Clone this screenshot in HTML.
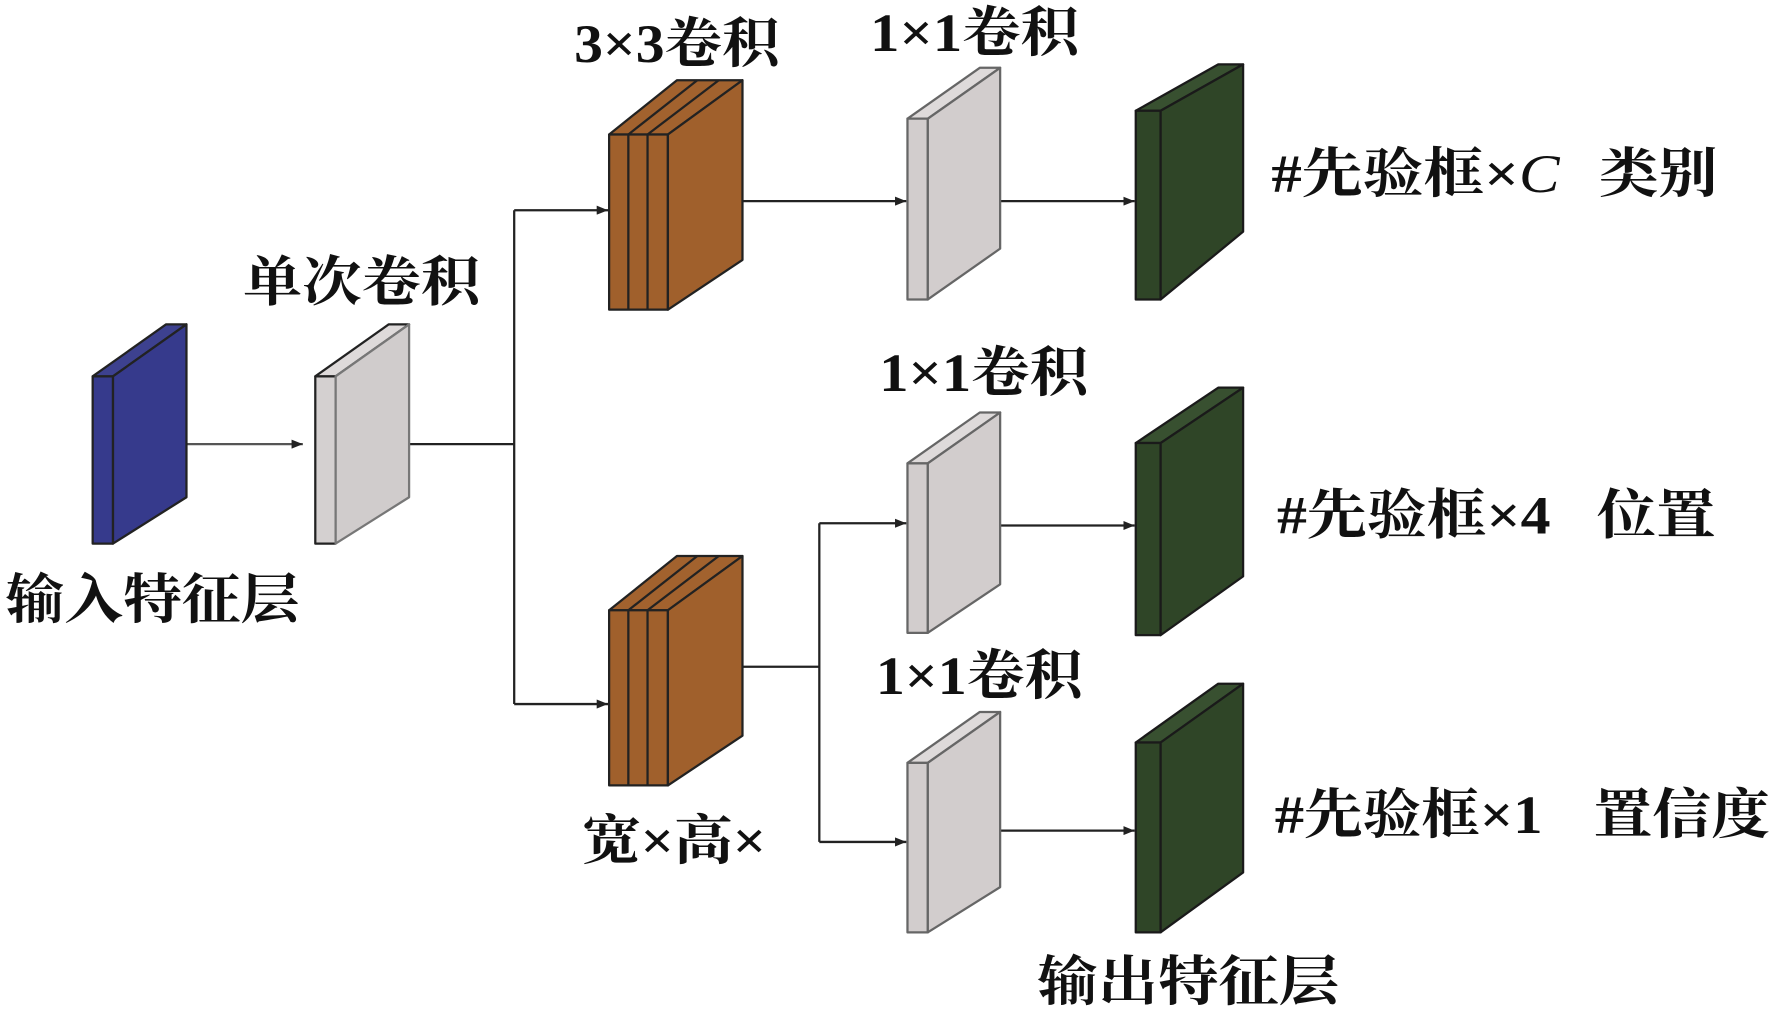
<!DOCTYPE html>
<html><head><meta charset="utf-8"><style>
html,body{margin:0;padding:0;background:#fff;}
svg{display:block;}
text{font-family:"Liberation Serif","Noto Serif CJK SC","Noto Sans CJK SC",serif;fill:#111;font-weight:bold;}
</style></head><body>
<svg width="1772" height="1011" viewBox="0 0 1568 894.6" preserveAspectRatio="none" xmlns="http://www.w3.org/2000/svg">
<defs>
<marker id="a" markerWidth="10" markerHeight="8" refX="10" refY="4" orient="auto" markerUnits="userSpaceOnUse"><path d="M0,0 L10,4 L0,8 Z" fill="#222"/></marker>
</defs>
<g stroke="#222" stroke-width="2" fill="none">
<line x1="165" y1="393" x2="268" y2="393" marker-end="url(#a)" stroke="#555"/>
<polyline points="362,393 455,393"/>
<polyline points="455,186 455,623"/>
<line x1="455" y1="186" x2="538" y2="186" marker-end="url(#a)"/>
<line x1="455" y1="623" x2="538" y2="623" marker-end="url(#a)"/>
<line x1="657" y1="178" x2="802" y2="178" marker-end="url(#a)"/>
<line x1="885" y1="178" x2="1004" y2="178" marker-end="url(#a)"/>
<polyline points="657,590 725,590"/>
<polyline points="725,463 725,745"/>
<line x1="725" y1="463" x2="802" y2="463" marker-end="url(#a)"/>
<line x1="725" y1="745" x2="802" y2="745" marker-end="url(#a)"/>
<line x1="885" y1="465" x2="1004" y2="465" marker-end="url(#a)"/>
<line x1="885" y1="735" x2="1004" y2="735" marker-end="url(#a)"/>
</g>
<g stroke="#222" stroke-width="2" stroke-linejoin="round">
<polygon points="82,333 147,287 165,287 100,333" fill="#3d418f"/>
<polygon points="82,333 100,333 100,481 82,481" fill="#363a8c"/>
<polygon points="100,333 165,287 165,440 100,481" fill="#363a8c"/>
<polygon points="279,333 344,287 362,287 297,333" fill="#dedada"/>
<polygon points="279,333 297,333 297,481 279,481" fill="#d4d0d0"/>
<polygon points="297,333 362,287 362,440 297,481" fill="#d0cccc" stroke="#777"/>
<polygon points="539,119 599,71 657,71 591,119" fill="#a2622e"/>
<polygon points="539,119 591,119 591,274 539,274" fill="#a0602c"/>
<line x1="556" y1="119" x2="617" y2="71"/><line x1="573" y1="119" x2="636" y2="71"/>
<line x1="556" y1="119" x2="556" y2="274"/><line x1="573" y1="119" x2="573" y2="274"/>
<polygon points="591,119 657,71 657,230 591,274" fill="#a0602c"/>
<polygon points="539,540 599,492 657,492 591,540" fill="#a2622e"/>
<polygon points="539,540 591,540 591,695 539,695" fill="#a0602c"/>
<line x1="556" y1="540" x2="617" y2="492"/><line x1="573" y1="540" x2="636" y2="492"/>
<line x1="556" y1="540" x2="556" y2="695"/><line x1="573" y1="540" x2="573" y2="695"/>
<polygon points="591,540 657,492 657,651 591,695" fill="#a0602c"/>
<g fill="#d2cdcd" stroke="#666">
<polygon points="803,105 867,60 885,60 821,105" fill="#dedada"/>
<polygon points="803,105 821,105 821,265 803,265"/>
<polygon points="821,105 885,60 885,220 821,265"/>
<polygon points="803,410 867,365 885,365 821,410" fill="#dedada"/>
<polygon points="803,410 821,410 821,560 803,560"/>
<polygon points="821,410 885,365 885,517 821,560"/>
<polygon points="803,675 867,630 885,630 821,675" fill="#dedada"/>
<polygon points="803,675 821,675 821,825 803,825"/>
<polygon points="821,675 885,630 885,785 821,825"/>
</g>
<g fill="#2f4527" stroke="#1a1a1a">
<polygon points="1005,98 1078,57 1100,57 1027,98" fill="#385030"/>
<polygon points="1005,98 1027,98 1027,265 1005,265"/>
<polygon points="1027,98 1100,57 1100,205 1027,265"/>
<polygon points="1005,392 1078,343 1100,343 1027,392" fill="#385030"/>
<polygon points="1005,392 1027,392 1027,562 1005,562"/>
<polygon points="1027,392 1100,343 1100,510 1027,562"/>
<polygon points="1005,657 1078,605 1100,605 1027,657" fill="#385030"/>
<polygon points="1005,657 1027,657 1027,825 1005,825"/>
<polygon points="1027,657 1100,605 1100,772 1027,825"/>
</g>
</g>
<g font-size="48">
<text x="508" y="55" textLength="182" lengthAdjust="spacingAndGlyphs">3×3卷积</text>
<text x="770" y="45" textLength="185" lengthAdjust="spacingAndGlyphs">1×1卷积</text>
<text x="778" y="346" textLength="185" lengthAdjust="spacingAndGlyphs">1×1卷积</text>
<text x="775" y="614" textLength="183" lengthAdjust="spacingAndGlyphs">1×1卷积</text>
<text x="215" y="266" textLength="210" lengthAdjust="spacingAndGlyphs">单次卷积</text>
<text x="5" y="547" textLength="260" lengthAdjust="spacingAndGlyphs">输入特征层</text>
<text x="515" y="760" textLength="163" lengthAdjust="spacingAndGlyphs">宽×高×</text>
<text x="1125" y="170" textLength="255" lengthAdjust="spacingAndGlyphs">#先验框×<tspan font-style="italic" font-weight="normal">C</tspan></text>
<text x="1415" y="170" textLength="105" lengthAdjust="spacingAndGlyphs">类别</text>
<text x="1130" y="472" textLength="242" lengthAdjust="spacingAndGlyphs">#先验框×4</text>
<text x="1413" y="472" textLength="105" lengthAdjust="spacingAndGlyphs">位置</text>
<text x="1128" y="737" textLength="237" lengthAdjust="spacingAndGlyphs">#先验框×1</text>
<text x="1410" y="737" textLength="156" lengthAdjust="spacingAndGlyphs">置信度</text>
<text x="918" y="885" textLength="267" lengthAdjust="spacingAndGlyphs">输出特征层</text>
</g>
</svg>
</body></html>
